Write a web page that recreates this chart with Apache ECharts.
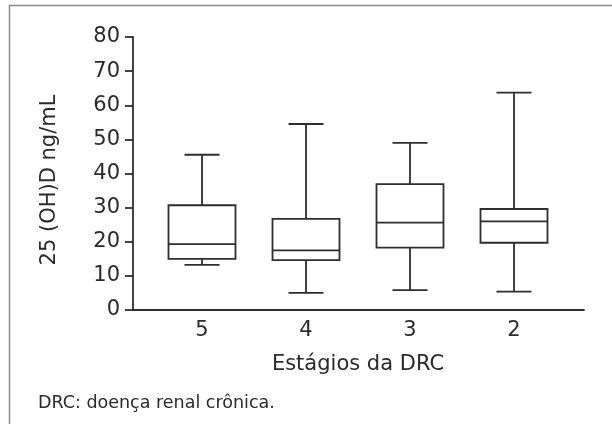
<!DOCTYPE html>
<html>
<head>
<meta charset="utf-8">
<script src="https://cdn.jsdelivr.net/npm/echarts@6/dist/echarts.min.js"></script>
<style>
  html, body { margin: 0; padding: 0; background: #fff; }
  #chart { width: 612px; height: 424px; }
</style>
</head>
<body>
<div id="chart"></div>
<script>
// estágios da DRC e valores de 25 (OH)D (ng/mL)
var stages = ['5', '4', '3', '2'];
var minVals = [13.2, 5.0, 5.8, 5.4];
var q1Vals = [15.0, 14.6, 18.3, 19.7];
var medVals = [19.3, 17.5, 25.6, 26.0];
var q3Vals = [30.7, 26.7, 36.9, 29.6];
var maxVals = [45.5, 54.5, 49.0, 63.7];
var yTicks = [0, 10, 20, 30, 40, 50, 60, 70, 80];

var font = 'DejaVu Sans';
var ink = '#2a2a2a';
var lineColor = '#2e2e2e';

var boxData = stages.map(function (s, i) {
  return [i, minVals[i], q1Vals[i], medVals[i], q3Vals[i], maxVals[i]];
});

// desenha caixa, mediana, bigodes e traços das pontas
function renderBox(params, api) {
  var x = api.value(0);
  var pMin = api.coord([x, api.value(1)]);
  var pQ1 = api.coord([x, api.value(2)]);
  var pMed = api.coord([x, api.value(3)]);
  var pQ3 = api.coord([x, api.value(4)]);
  var pMax = api.coord([x, api.value(5)]);
  var cx = pMed[0];
  var half = 33.5;
  var cap = 17.5;
  var st = { stroke: lineColor, lineWidth: 1.8, fill: null };
  return {
    type: 'group',
    children: [
      { type: 'rect', shape: { x: cx - half, y: pQ3[1], width: half * 2, height: pQ1[1] - pQ3[1] }, style: st },
      { type: 'line', shape: { x1: cx - half, y1: pMed[1], x2: cx + half, y2: pMed[1] }, style: st },
      { type: 'line', shape: { x1: cx, y1: pQ3[1], x2: cx, y2: pMax[1] }, style: st },
      { type: 'line', shape: { x1: cx, y1: pQ1[1], x2: cx, y2: pMin[1] }, style: st },
      { type: 'line', shape: { x1: cx - cap, y1: pMax[1], x2: cx + cap, y2: pMax[1] }, style: st },
      { type: 'line', shape: { x1: cx - cap, y1: pMin[1], x2: cx + cap, y2: pMin[1] }, style: st }
    ]
  };
}

var chart = echarts.init(document.getElementById('chart'), null, { renderer: 'canvas' });

var option = {
  animation: false,
  backgroundColor: '#fff',
  textStyle: { fontFamily: font, color: ink },
  grid: [
    // grade das caixas (categorias)
    { left: 150, width: 416, top: 37, bottom: 114 },
    // grade só com as linhas dos eixos
    { left: 133, right: 28, top: 37, bottom: 114 }
  ],
  xAxis: [
    {
      gridIndex: 0,
      type: 'category',
      data: stages,
      boundaryGap: true,
      axisLine: { show: false },
      axisTick: { show: false },
      axisLabel: { fontFamily: font, fontSize: 21, color: ink, margin: 10 },
      name: 'Estágios da DRC',
      nameLocation: 'middle',
      nameGap: 44,
      nameTextStyle: { fontFamily: font, fontSize: 21, color: ink }
    },
    {
      gridIndex: 1,
      type: 'value',
      min: 0,
      max: 1,
      axisLine: { show: true, lineStyle: { color: lineColor, width: 1.8 } },
      axisTick: { show: false },
      axisLabel: { show: false },
      splitLine: { show: false }
    }
  ],
  yAxis: [
    {
      gridIndex: 0,
      type: 'value',
      min: 0,
      max: 80,
      interval: 10,
      show: false
    },
    {
      gridIndex: 1,
      type: 'value',
      min: yTicks[0],
      max: yTicks[yTicks.length - 1],
      interval: 10,
      axisLine: { show: true, lineStyle: { color: lineColor, width: 1.8 } },
      axisTick: { show: true, length: 8, lineStyle: { color: lineColor, width: 1.8 } },
      axisLabel: { fontFamily: font, fontSize: 21, color: ink, margin: 13 },
      splitLine: { show: false },
      name: '25 (OH)D ng/mL',
      nameLocation: 'middle',
      nameGap: 73,
      nameTextStyle: { fontFamily: font, fontSize: 21, color: ink, padding: [0, 13, 0, 0] }
    }
  ],
  series: [
    {
      type: 'custom',
      xAxisIndex: 0,
      yAxisIndex: 0,
      renderItem: renderBox,
      encode: { x: 0, y: [1, 2, 3, 4, 5] },
      data: boxData
    }
  ],
  graphic: [
    {
      type: 'rect',
      shape: { x: 9.5, y: 5.5, width: 700, height: 500 },
      style: { stroke: '#8c8c8c', lineWidth: 1.5, fill: null },
      silent: true
    },
    {
      type: 'text',
      left: 38,
      top: 394,
      style: { text: 'DRC: doença renal crônica.', fontFamily: font, fontSize: 17.5, fill: ink }
    }
  ]
};

chart.setOption(option);
</script>
</body>
</html>
